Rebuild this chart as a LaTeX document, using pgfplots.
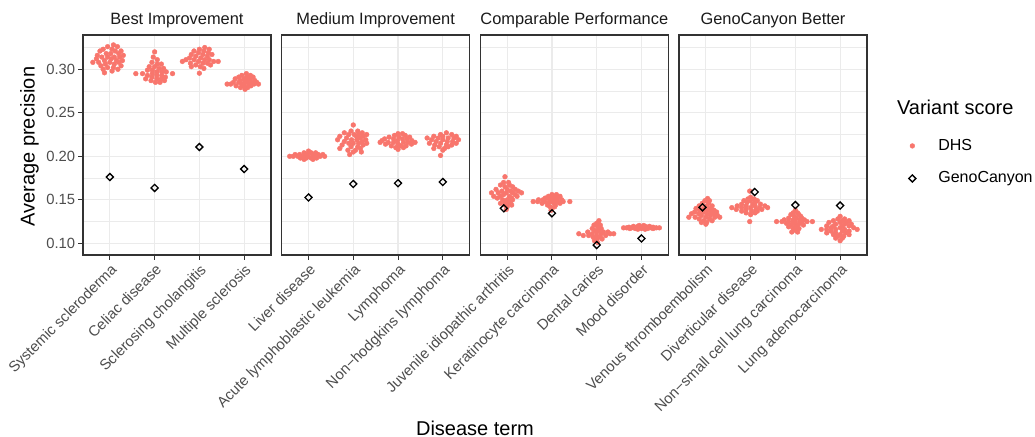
\documentclass[border=0pt]{standalone}
\usepackage{pgfplots}
\pgfplotsset{compat=1.18}
\usepackage{pgfplotstable}
\usepackage{fontspec}
\setmainfont{Liberation Sans}
\definecolor{dhs}{HTML}{F8766D}
\definecolor{grey92}{HTML}{EBEBEB}
\definecolor{grey20}{HTML}{333333}
\definecolor{grey30}{HTML}{4D4D4D}
\definecolor{grey10}{HTML}{1A1A1A}

% DHS points: category c, horizontal swarm offset dx, average precision y
\pgfplotstableread[row sep=\\]{
c dx y\\
1 0.08 0.328\\ 1 -0.05 0.326\\ 1 0.17 0.326\\ 1 -0.15 0.323\\ 1 0.05 0.323\\
1 -0.22 0.321\\ 1 0.12 0.321\\ 1 0.25 0.321\\ 1 -0.08 0.318\\ 1 0.02 0.318\\
1 0.20 0.318\\ 1 -0.28 0.316\\ 1 0.30 0.316\\ 1 -0.18 0.314\\ 1 -0.05 0.314\\
1 0.10 0.314\\ 1 0.22 0.314\\ 1 -0.30 0.312\\ 1 0.03 0.312\\ 1 -0.12 0.310\\
1 0.15 0.310\\ 1 0.28 0.310\\ 1 -0.38 0.308\\ 1 -0.25 0.308\\ 1 0.00 0.308\\
1 0.20 0.308\\ 1 -0.10 0.306\\ 1 0.10 0.306\\ 1 -0.20 0.304\\ 1 0.25 0.304\\
1 -0.05 0.302\\ 1 0.08 0.302\\ 1 -0.15 0.300\\ 1 0.18 0.300\\ 1 0.05 0.298\\
1 -0.12 0.296\\
2 0.00 0.320\\ 2 -0.03 0.314\\ 2 0.06 0.311\\ 2 -0.06 0.308\\ 2 0.06 0.306\\
2 0.15 0.306\\ 2 -0.12 0.303\\ 2 0.00 0.303\\ 2 0.10 0.301\\ 2 0.20 0.301\\
2 -0.05 0.299\\ 2 -0.16 0.299\\ 2 0.05 0.297\\ 2 0.16 0.297\\ 2 0.26 0.297\\
2 -0.42 0.295\\ 2 -0.27 0.295\\ 2 -0.05 0.295\\ 2 0.40 0.295\\ 2 0.05 0.293\\
2 0.16 0.293\\ 2 -0.16 0.293\\ 2 -0.06 0.291\\ 2 0.24 0.291\\ 2 -0.20 0.289\\
2 0.05 0.289\\ 2 0.15 0.289\\ 2 -0.08 0.287\\ 2 0.22 0.287\\ 2 0.02 0.285\\
2 0.12 0.285\\
3 0.12 0.325\\ 3 0.00 0.323\\ 3 0.22 0.323\\ 3 -0.12 0.321\\ 3 0.10 0.321\\
3 -0.02 0.319\\ 3 0.20 0.319\\ 3 -0.18 0.317\\ 3 0.08 0.317\\ 3 0.28 0.317\\
3 -0.08 0.315\\ 3 0.18 0.315\\ 3 -0.22 0.313\\ 3 0.03 0.313\\ 3 -0.30 0.311\\
3 -0.12 0.311\\ 3 0.12 0.311\\ 3 0.22 0.311\\ 3 -0.38 0.309\\ 3 -0.02 0.309\\
3 0.32 0.309\\ 3 0.42 0.309\\ 3 -0.20 0.307\\ 3 0.08 0.307\\ 3 0.18 0.307\\
3 -0.08 0.305\\ 3 0.25 0.305\\ 3 0.02 0.303\\ 3 -0.18 0.303\\ 3 0.10 0.301\\
3 0.00 0.2955\\
4 0.05 0.295\\ 4 -0.05 0.293\\ 4 0.14 0.293\\ 4 -0.12 0.291\\ 4 0.06 0.291\\
4 0.20 0.291\\ 4 0.00 0.289\\ 4 -0.20 0.289\\ 4 0.14 0.289\\ 4 -0.08 0.287\\
4 0.08 0.287\\ 4 0.24 0.287\\ 4 -0.24 0.285\\ 4 -0.12 0.285\\ 4 0.02 0.285\\
4 0.16 0.285\\ 4 0.28 0.285\\ 4 -0.38 0.283\\ 4 -0.30 0.283\\ 4 -0.05 0.283\\
4 0.10 0.283\\ 4 0.22 0.283\\ 4 0.32 0.283\\ 4 -0.18 0.281\\ 4 0.00 0.281\\
4 0.15 0.281\\ 4 -0.08 0.279\\ 4 0.08 0.279\\ 4 0.02 0.277\\
}\dhsA

\pgfplotstableread[row sep=\\]{
c dx y\\
1 0.00 0.206\\ 1 -0.10 0.204\\ 1 0.06 0.204\\ 1 0.16 0.204\\ 1 -0.30 0.202\\
1 -0.20 0.202\\ 1 -0.04 0.202\\ 1 0.10 0.202\\ 1 0.22 0.202\\ 1 0.32 0.202\\
1 -0.42 0.200\\ 1 -0.34 0.200\\ 1 -0.24 0.200\\ 1 -0.12 0.200\\ 1 0.00 0.200\\
1 0.14 0.200\\ 1 0.26 0.200\\ 1 0.36 0.200\\ 1 -0.18 0.198\\ 1 -0.05 0.198\\
1 0.06 0.198\\ 1 0.18 0.198\\ 1 -0.10 0.1965\\ 1 0.10 0.1965\\
2 0.00 0.236\\ 2 -0.05 0.229\\ 2 0.10 0.229\\ 2 -0.20 0.227\\ 2 0.20 0.227\\
2 -0.10 0.225\\ 2 0.02 0.225\\ 2 0.12 0.225\\ 2 0.30 0.225\\ 2 -0.30 0.223\\
2 0.07 0.223\\ 2 0.22 0.223\\ 2 -0.15 0.221\\ 2 0.15 0.221\\ 2 -0.35 0.219\\
2 -0.04 0.219\\ 2 0.08 0.219\\ 2 0.28 0.219\\ 2 -0.20 0.217\\ 2 0.20 0.217\\
2 -0.10 0.215\\ 2 0.00 0.215\\ 2 0.12 0.215\\ 2 0.30 0.215\\ 2 -0.25 0.213\\
2 0.22 0.213\\ 2 -0.05 0.211\\ 2 0.10 0.211\\ 2 -0.30 0.209\\ 2 0.16 0.209\\
2 -0.12 0.207\\ 2 0.05 0.207\\ 2 0.00 0.205\\ 2 0.18 0.205\\ 2 -0.08 0.202\\
3 0.00 0.226\\ 3 0.10 0.226\\ 3 -0.08 0.224\\ 3 0.16 0.224\\ 3 -0.20 0.222\\
3 0.02 0.222\\ 3 0.26 0.222\\ 3 -0.30 0.220\\ 3 -0.10 0.220\\ 3 0.10 0.220\\
3 0.20 0.220\\ 3 -0.36 0.218\\ 3 -0.01 0.218\\ 3 0.31 0.218\\ 3 -0.40 0.216\\
3 -0.22 0.216\\ 3 -0.10 0.216\\ 3 0.12 0.216\\ 3 0.22 0.216\\ 3 0.38 0.216\\
3 -0.28 0.214\\ 3 0.00 0.214\\ 3 0.30 0.214\\ 3 -0.15 0.212\\ 3 0.06 0.212\\
3 0.18 0.212\\ 3 -0.05 0.210\\ 3 0.12 0.210\\ 3 0.00 0.208\\
4 0.08 0.227\\ 4 -0.05 0.225\\ 4 0.20 0.225\\ 4 -0.20 0.223\\ 4 0.00 0.223\\
4 0.30 0.223\\ 4 -0.35 0.221\\ 4 -0.10 0.221\\ 4 0.12 0.221\\ 4 0.25 0.221\\
4 -0.25 0.219\\ 4 0.00 0.219\\ 4 0.35 0.219\\ 4 -0.15 0.217\\ 4 0.10 0.217\\
4 0.22 0.217\\ 4 -0.30 0.215\\ 4 -0.05 0.215\\ 4 0.30 0.215\\ 4 -0.18 0.213\\
4 0.08 0.213\\ 4 0.20 0.213\\ 4 -0.08 0.211\\ 4 0.12 0.211\\ 4 -0.20 0.209\\
4 0.04 0.209\\ 4 0.00 0.207\\ 4 -0.05 0.201\\
}\dhsB

\pgfplotstableread[row sep=\\]{
c dx y\\
1 -0.05 0.1765\\ 1 -0.08 0.170\\ 1 0.03 0.170\\ 1 -0.15 0.167\\ 1 0.05 0.167\\
1 -0.05 0.165\\ 1 0.12 0.165\\ 1 -0.25 0.162\\ 1 0.00 0.162\\ 1 0.18 0.162\\
1 -0.12 0.160\\ 1 0.08 0.160\\ 1 0.25 0.160\\ 1 -0.35 0.158\\ 1 -0.20 0.158\\
1 -0.02 0.158\\ 1 0.12 0.158\\ 1 0.32 0.158\\ 1 -0.08 0.156\\ 1 0.18 0.156\\
1 -0.30 0.154\\ 1 -0.15 0.154\\ 1 0.05 0.154\\ 1 0.22 0.154\\ 1 -0.22 0.152\\
1 0.10 0.152\\ 1 -0.10 0.150\\ 1 0.00 0.150\\ 1 0.12 0.150\\ 1 -0.05 0.148\\
1 0.08 0.148\\ 1 -0.15 0.146\\ 1 0.02 0.146\\ 1 -0.05 0.144\\ 1 0.10 0.144\\
1 0.00 0.142\\ 1 -0.02 0.139\\
2 0.00 0.156\\ 2 0.10 0.156\\ 2 -0.08 0.154\\ 2 0.05 0.154\\ 2 0.18 0.154\\
2 -0.15 0.152\\ 2 0.00 0.152\\ 2 0.12 0.152\\ 2 -0.30 0.150\\ 2 -0.20 0.150\\
2 -0.06 0.150\\ 2 0.08 0.150\\ 2 0.22 0.150\\ 2 -0.42 0.148\\ 2 -0.32 0.148\\
2 -0.16 0.148\\ 2 0.00 0.148\\ 2 0.13 0.148\\ 2 0.25 0.148\\ 2 0.40 0.148\\
2 -0.22 0.146\\ 2 -0.08 0.146\\ 2 0.05 0.146\\ 2 0.18 0.146\\ 2 -0.10 0.144\\
2 0.08 0.144\\ 2 -0.04 0.142\\ 2 0.06 0.142\\ 2 0.00 0.140\\ 2 -0.02 0.138\\
3 0.05 0.126\\ 3 0.00 0.123\\ 3 -0.06 0.121\\ 3 0.08 0.121\\ 3 0.02 0.119\\
3 -0.10 0.117\\ 3 0.10 0.117\\ 3 -0.05 0.115\\ 3 0.05 0.115\\ 3 -0.20 0.113\\
3 0.00 0.113\\ 3 0.15 0.113\\ 3 0.25 0.113\\ 3 -0.40 0.111\\ 3 -0.10 0.111\\
3 0.10 0.111\\ 3 0.30 0.111\\ 3 0.38 0.111\\ 3 -0.30 0.109\\ 3 -0.18 0.109\\
3 0.00 0.109\\ 3 0.20 0.109\\ 3 -0.08 0.107\\ 3 0.08 0.107\\ 3 0.00 0.105\\
3 0.12 0.105\\ 3 -0.05 0.103\\ 3 0.02 0.101\\
4 -0.05 0.1205\\ 4 0.05 0.1205\\ 4 -0.18 0.1195\\ 4 -0.08 0.1195\\ 4 0.08 0.1195\\
4 0.18 0.1195\\ 4 -0.28 0.1185\\ 4 -0.15 0.1185\\ 4 0.00 0.1185\\ 4 0.14 0.1185\\
4 0.26 0.1185\\ 4 -0.40 0.1178\\ 4 -0.33 0.1178\\ 4 -0.22 0.1178\\ 4 -0.08 0.1178\\
4 0.08 0.1178\\ 4 0.22 0.1178\\ 4 0.33 0.1178\\ 4 0.40 0.1178\\ 4 -0.26 0.1170\\
4 -0.14 0.1170\\ 4 0.00 0.1170\\ 4 0.14 0.1170\\ 4 0.26 0.1170\\ 4 -0.08 0.1162\\
4 0.08 0.1162\\
}\dhsC

\pgfplotstableread[row sep=\\]{
c dx y\\
1 0.04 0.1515\\ 1 -0.02 0.149\\ 1 0.08 0.149\\ 1 -0.08 0.146\\ 1 0.06 0.146\\
1 -0.15 0.143\\ 1 0.02 0.143\\ 1 0.14 0.143\\ 1 -0.22 0.140\\ 1 -0.05 0.140\\
1 0.10 0.140\\ 1 -0.14 0.138\\ 1 0.04 0.138\\ 1 0.18 0.138\\ 1 -0.25 0.136\\
1 -0.06 0.136\\ 1 0.12 0.136\\ 1 0.24 0.136\\ 1 -0.32 0.134\\ 1 -0.16 0.134\\
1 0.02 0.134\\ 1 0.18 0.134\\ 1 -0.10 0.132\\ 1 0.10 0.132\\ 1 0.26 0.132\\
1 -0.38 0.130\\ 1 -0.24 0.130\\ 1 0.00 0.130\\ 1 0.20 0.130\\ 1 0.31 0.130\\
1 -0.15 0.128\\ 1 0.08 0.128\\ 1 -0.05 0.126\\ 1 0.14 0.126\\ 1 0.02 0.124\\
1 -0.10 0.124\\ 1 0.00 0.122\\
2 -0.02 0.160\\ 2 0.00 0.153\\ 2 -0.06 0.151\\ 2 0.08 0.151\\ 2 -0.15 0.149\\
2 0.00 0.149\\ 2 0.15 0.149\\ 2 -0.08 0.147\\ 2 0.10 0.147\\ 2 -0.20 0.145\\
2 0.05 0.145\\ 2 0.22 0.145\\ 2 -0.30 0.143\\ 2 -0.10 0.143\\ 2 0.10 0.143\\
2 0.32 0.143\\ 2 -0.42 0.141\\ 2 -0.20 0.141\\ 2 0.00 0.141\\ 2 0.20 0.141\\
2 0.38 0.141\\ 2 -0.32 0.139\\ 2 -0.10 0.139\\ 2 0.12 0.139\\ 2 0.25 0.139\\
2 -0.20 0.137\\ 2 0.02 0.137\\ 2 0.15 0.137\\ 2 -0.10 0.135\\ 2 0.10 0.135\\
2 0.00 0.133\\ 2 -0.02 0.125\\
3 0.00 0.138\\ 3 -0.05 0.135\\ 3 0.05 0.135\\ 3 -0.10 0.133\\ 3 0.08 0.133\\
3 -0.02 0.131\\ 3 0.12 0.131\\ 3 -0.15 0.129\\ 3 0.02 0.129\\ 3 0.14 0.129\\
3 -0.25 0.127\\ 3 -0.05 0.127\\ 3 0.10 0.127\\ 3 0.20 0.127\\ 3 -0.42 0.125\\
3 -0.30 0.125\\ 3 -0.15 0.125\\ 3 0.00 0.125\\ 3 0.15 0.125\\ 3 0.26 0.125\\
3 0.38 0.125\\ 3 -0.20 0.123\\ 3 -0.05 0.123\\ 3 0.10 0.123\\ 3 -0.10 0.121\\
3 0.05 0.121\\ 3 0.18 0.121\\ 3 -0.15 0.119\\ 3 0.00 0.119\\ 3 -0.05 0.117\\
3 0.08 0.117\\ 3 0.00 0.115\\ 3 -0.08 0.113\\ 3 0.05 0.113\\
4 0.00 0.131\\ 4 -0.05 0.128\\ 4 0.10 0.128\\ 4 -0.15 0.126\\ 4 0.05 0.126\\
4 0.20 0.126\\ 4 -0.25 0.124\\ 4 0.00 0.124\\ 4 0.15 0.124\\ 4 -0.10 0.122\\
4 0.10 0.122\\ 4 0.25 0.122\\ 4 -0.30 0.120\\ 4 -0.15 0.120\\ 4 0.05 0.120\\
4 0.20 0.120\\ 4 -0.20 0.118\\ 4 0.00 0.118\\ 4 0.30 0.118\\ 4 -0.42 0.116\\
4 -0.30 0.116\\ 4 -0.10 0.116\\ 4 0.10 0.116\\ 4 0.38 0.116\\ 4 -0.20 0.114\\
4 0.05 0.114\\ 4 0.20 0.114\\ 4 -0.30 0.112\\ 4 -0.10 0.112\\ 4 0.12 0.112\\
4 -0.15 0.110\\ 4 0.00 0.110\\ 4 0.20 0.110\\ 4 -0.05 0.108\\ 4 0.08 0.108\\
4 -0.10 0.106\\ 4 0.05 0.106\\ 4 0.00 0.103\\
}\dhsD

% GenoCanyon values
\pgfplotstableread[row sep=\\]{
c dx y\\ 1 0 0.1762\\ 2 0 0.1636\\ 3 0 0.2107\\ 4 0 0.1854\\
}\genoA
\pgfplotstableread[row sep=\\]{
c dx y\\ 1 0 0.1527\\ 2 0 0.1682\\ 3 0 0.1691\\ 4 0 0.1705\\
}\genoB
\pgfplotstableread[row sep=\\]{
c dx y\\ 1 -0.075 0.1402\\ 2 0 0.1345\\ 3 0 0.0980\\ 4 0 0.1056\\
}\genoC
\pgfplotstableread[row sep=\\]{
c dx y\\ 1 -0.075 0.1414\\ 2 0.09 0.1590\\ 3 0 0.1440\\ 4 0 0.1434\\
}\genoD

\pgfplotsset{
  every axis title/.style={at={(0.5,1)}, anchor=base, yshift=5pt,
      font=\fontsize{8.2}{9}\selectfont, text=grey10},
  panel/.style={
    scale only axis, width=94pt, height=110pt,
    anchor=north west,
    xmin=0.4, xmax=4.6, ymin=0.0866, ymax=0.3394,
    xtick={1,2,3,4},
    ytick={0.10,0.15,0.20,0.25,0.30},
    minor ytick={0.125,0.175,0.225,0.275,0.325},
    xmajorgrids, ymajorgrids, yminorgrids,
    major grid style={grey92, line width=0.55pt},
    minor grid style={grey92, line width=0.3pt},
    axis line style={grey20, line width=0.6pt},
    tick align=outside, tick pos=left,
    major tick length=2.4pt, minor tick length=0pt,
    tick style={grey20, line width=0.5pt},
    /pgf/number format/assume math mode=true,
    xticklabel style={rotate=45, anchor=north east, inner sep=1pt,
      font=\fontsize{7.4}{8}\selectfont, text=grey30},
    yticklabel style={font=\fontsize{7.4}{8}\selectfont, text=grey30, xshift=2pt,
      /pgf/number format/fixed, /pgf/number format/fixed zerofill,
      /pgf/number format/precision=2},
  },
  noy/.style={yticklabels={}, ytick style={draw=none}},
  dhs/.style={only marks, color=dhs, mark=*, mark size=1.2pt,
    mark options={draw=dhs, fill=dhs, line width=0.2pt},
    legend image code/.code={\pgfpathrectangle{\pgfpoint{0pt}{-4pt}}{\pgfpoint{7pt}{8pt}}\pgfusepath{discard}%
      \draw[##1] plot coordinates {(3.5pt,0pt)};}},
  geno/.style={only marks, color=black, mark=square, mark size=1.25pt,
    mark options={draw=black, fill=none, rotate=45, line width=0.65pt},
    legend image code/.code={\pgfpathrectangle{\pgfpoint{0pt}{-4pt}}{\pgfpoint{7pt}{8pt}}\pgfusepath{discard}%
      \draw[##1] plot coordinates {(3.5pt,0pt)};}},
}

\begin{document}
\begin{tikzpicture}
\path[use as bounding box] (0pt,0pt) rectangle (517.5pt,-218.5pt);

\begin{axis}[panel, at={(41.5pt,-17.5pt)}, title={Best Improvement},
  xticklabels={Systemic scleroderma, Celiac disease, Sclerosing cholangitis, Multiple sclerosis}]
\addplot[dhs] table[x expr=\thisrow{c}+\thisrow{dx}, y=y] {\dhsA};
\addplot[geno] table[x expr=\thisrow{c}+\thisrow{dx}, y=y] {\genoA};
\end{axis}

\begin{axis}[panel, noy, at={(140.83pt,-17.5pt)}, title={Medium Improvement},
  xticklabels={Liver disease, Acute lymphoblastic leukemia, Lymphoma, Non−hodgkins lymphoma}]
\addplot[dhs] table[x expr=\thisrow{c}+\thisrow{dx}, y=y] {\dhsB};
\addplot[geno] table[x expr=\thisrow{c}+\thisrow{dx}, y=y] {\genoB};
\end{axis}

\begin{axis}[panel, noy, at={(240.17pt,-17.5pt)}, title={Comparable Performance},
  xticklabels={Juvenile idiopathic arthritis, Keratinocyte carcinoma, Dental caries, Mood disorder}]
\addplot[dhs] table[x expr=\thisrow{c}+\thisrow{dx}, y=y] {\dhsC};
\addplot[geno] table[x expr=\thisrow{c}+\thisrow{dx}, y=y] {\genoC};
\end{axis}

\begin{axis}[panel, noy, at={(339.5pt,-17.5pt)}, title={GenoCanyon Better},
  xticklabels={Venous thromboembolism, Diverticular disease, Non−small cell lung carcinoma, Lung adenocarcinoma},
  legend style={draw=none, fill=none, at={(axis description cs:1.202,0.548)},
    anchor=north west, inner sep=0pt, row sep=5.2pt, column sep=7.5pt,
    font=\fontsize{8}{9.6}\selectfont},
  legend cell align=left]
\addplot[dhs] table[x expr=\thisrow{c}+\thisrow{dx}, y=y] {\dhsD};
\addlegendentry{DHS}
\addplot[geno] table[x expr=\thisrow{c}+\thisrow{dx}, y=y] {\genoD};
\addlegendentry{GenoCanyon}
\end{axis}

\node[rotate=90, anchor=base, font=\fontsize{10}{12}\selectfont] at (17.25pt,-73.3pt) {Average precision};
\node[anchor=base, font=\fontsize{10}{12}\selectfont] at (237.5pt,-217.6pt) {Disease term};
\node[anchor=base west, inner sep=0pt, font=\fontsize{10}{12}\selectfont] at (448.35pt,-57.5pt) {Variant score};
\end{tikzpicture}
\end{document}
